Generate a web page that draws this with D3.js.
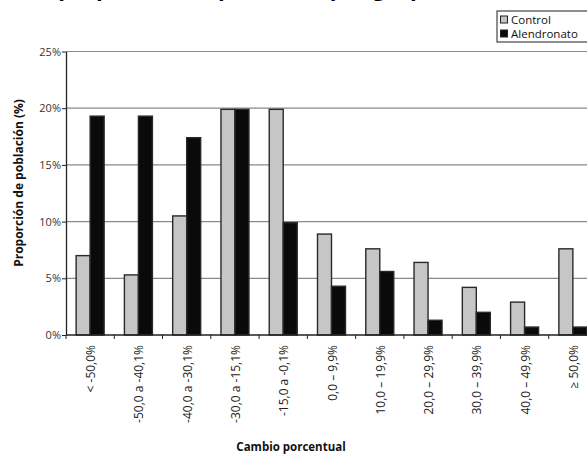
<!DOCTYPE html>
<html>
<head>
<meta charset="utf-8">
<script src="https://cdn.jsdelivr.net/npm/d3@7"></script>
<style>
  html, body { margin: 0; padding: 0; background: #fff; overflow: hidden; }
  svg { display: block; }
</style>
</head>
<body>
<svg id="chart" width="587" height="459"></svg>
<script>
// Percentage-change categories
const categories = [
  "< -50,0%", "-50,0 a -40,1%", "-40,0 a -30,1%", "-30,0 a -15,1%", "-15,0 a -0,1%",
  "0,0 – 9,9%", "10,0 – 19,9%", "20,0 – 29,9%", "30,0 – 39,9%", "40,0 – 49,9%", "≥ 50,0%"
];
// Share of population (%) per group
const control     = [7.0, 5.3, 10.5, 19.9, 19.9, 8.9, 7.6, 6.4, 4.2, 2.9, 7.6];
const alendronato = [19.3, 19.3, 17.4, 19.9, 9.9, 4.3, 5.6, 1.3, 2.0, 0.7, 0.7];
const seriesNames = ["Control", "Alendronato"];
const yTicks = [0, 5, 10, 15, 20, 25];

const svg = d3.select("#chart");
const font = "'Open Sans', 'Noto Sans', sans-serif";
const margin = { left: 66, top: 51.5, bottom: 335, right: 597 };

const x = d3.scaleBand().domain(categories)
  .range([margin.left, margin.right]).paddingInner(0.42).paddingOuter(0.21);
const xs = d3.scaleBand().domain(seriesNames).range([0, x.bandwidth()]);
const y = d3.scaleLinear().domain([0, 25]).range([margin.bottom, margin.top]);
const colors = { Control: "#c6c6c6", Alendronato: "#0a0a0a" };

// Title (mostly above the visible area)
svg.append("text")
  .attr("x", 232).attr("y", -4)
  .attr("text-anchor", "middle")
  .attr("font-family", font).attr("font-weight", "bold").attr("font-size", 22)
  .attr("fill", "#000")
  .text("(%, proporción de pacientes por grupo)");

// Horizontal gridlines
svg.append("g").selectAll("line")
  .data(yTicks.filter(d => d > 0))
  .join("line")
  .attr("x1", margin.left).attr("x2", 600)
  .attr("y1", d => y(d)).attr("y2", d => y(d))
  .attr("stroke", "#8a8a8a").attr("stroke-width", 1.2);

// Bars
const groups = svg.append("g").selectAll("g")
  .data(categories.map((c, i) => ({ c, vals: [
    { s: "Control", v: control[i] }, { s: "Alendronato", v: alendronato[i] }] })))
  .join("g")
  .attr("transform", d => `translate(${x(d.c)},0)`);

groups.selectAll("rect")
  .data(d => d.vals)
  .join("rect")
  .attr("x", d => xs(d.s))
  .attr("y", d => y(d.v))
  .attr("width", xs.bandwidth())
  .attr("height", d => y(0) - y(d.v))
  .attr("fill", d => colors[d.s])
  .attr("stroke", "#2a2a2a").attr("stroke-width", 1.4);

// Y axis
const yAxis = svg.append("g")
  .attr("transform", `translate(${margin.left},0)`)
  .call(d3.axisLeft(y).tickValues(yTicks).tickFormat(d => d + "%").tickSize(4).tickSizeOuter(0));
yAxis.select(".domain").attr("stroke", "#222").attr("stroke-width", 1.3);
yAxis.selectAll(".tick line").attr("stroke", "#222");
yAxis.selectAll(".tick text")
  .attr("font-family", font).attr("font-size", 11).attr("fill", "#333")
  .attr("x", -5);

// X axis line with ticks at category boundaries
svg.append("line")
  .attr("x1", margin.left).attr("x2", 600)
  .attr("y1", y(0)).attr("y2", y(0))
  .attr("stroke", "#222").attr("stroke-width", 1.3);
svg.append("g").selectAll("line")
  .data(categories.map((c, i) => margin.left + i * x.step()))
  .join("line")
  .attr("x1", d => d).attr("x2", d => d)
  .attr("y1", y(0)).attr("y2", y(0) + 4)
  .attr("stroke", "#222");

// Category labels, rotated
svg.append("g").selectAll("text")
  .data(categories)
  .join("text")
  .attr("transform", d => `translate(${x(d) + x.bandwidth() / 2 + 5},345) rotate(-90)`)
  .attr("text-anchor", "end")
  .attr("font-family", font).attr("font-size", 12).attr("fill", "#222")
  .text(d => d);

// Axis titles
svg.append("text")
  .attr("x", 291).attr("y", 451)
  .attr("text-anchor", "middle")
  .attr("font-family", font).attr("font-weight", "bold").attr("font-size", 11.5)
  .attr("fill", "#111")
  .text("Cambio porcentual");

svg.append("text")
  .attr("transform", "translate(23,183) rotate(-90)")
  .attr("text-anchor", "middle")
  .attr("font-family", font).attr("font-weight", "bold").attr("font-size", 12)
  .attr("fill", "#111")
  .text("Proporción de población (%)");

// Legend
const legend = svg.append("g").attr("transform", "translate(497,11)");
legend.append("rect")
  .attr("x", 0).attr("y", 0).attr("width", 110).attr("height", 31)
  .attr("fill", "#fff").attr("stroke", "#444").attr("stroke-width", 1.2);
seriesNames.forEach((s, i) => {
  legend.append("rect")
    .attr("x", 3.5).attr("y", 5 + i * 14).attr("width", 7).attr("height", 7)
    .attr("fill", colors[s]).attr("stroke", "#222").attr("stroke-width", 1);
  legend.append("text")
    .attr("x", 14).attr("y", 12.5 + i * 14)
    .attr("font-family", font).attr("font-size", 11.5).attr("fill", "#111")
    .text(s);
});
</script>
</body>
</html>
